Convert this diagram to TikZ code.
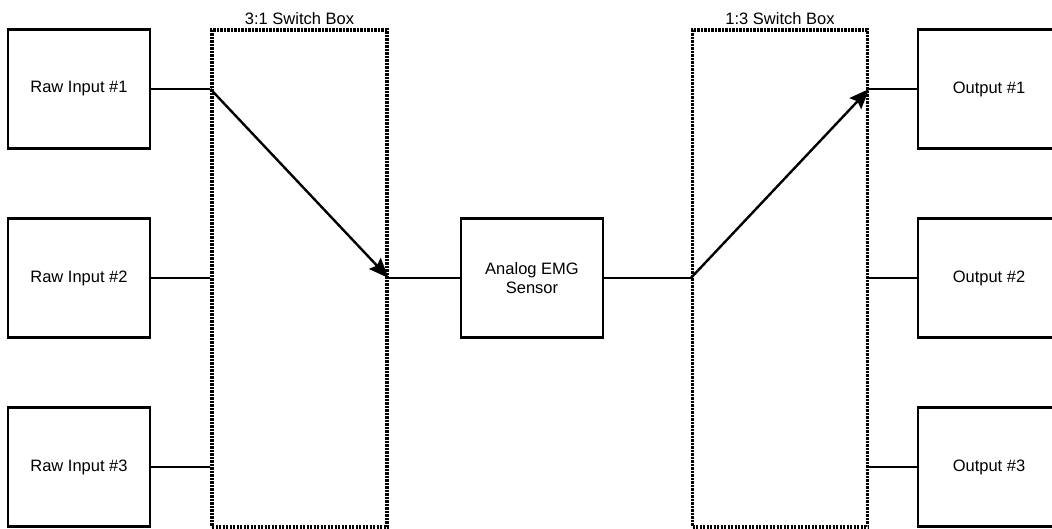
\documentclass[tikz,border=0pt]{standalone}
\usepackage{fontspec}
\setmainfont{Liberation Sans}
\usepackage{tikz}
\usetikzlibrary{arrows.meta,positioning}

\begin{document}
\begin{tikzpicture}[
  x=1pt, y=-1pt,
  every node/.style={font=\fontsize{16.5}{19}\selectfont},
  block/.style    ={rectangle, draw, line width=2.2pt, minimum width=142pt,
                    minimum height=119pt, align=center, inner sep=2pt},
  switchbox/.style={rectangle, draw, line width=3.2pt, dash pattern=on 2.2pt off 1.3pt,
                    minimum width=175pt, minimum height=497pt},
  wire/.style     ={line width=2.2pt},
  sel/.style      ={-{Stealth[length=20pt,width=16pt,inset=3pt]}, line width=2.4pt}
]
\useasboundingbox (0,0) rectangle (1052,529);

% inputs, sensor and outputs
\node[block] (in1) at (79,89)  {Raw Input \#1};
\node[block] (in2) at (79,278) {Raw Input \#2};
\node[block] (in3) at (79,467) {Raw Input \#3};
\node[block] (emg) at (532,278) {Analog EMG\\Sensor};
\node[block] (out1) at (989,89)  {Output \#1};
\node[block] (out2) at (989,278) {Output \#2};
\node[block] (out3) at (989,467) {Output \#3};

% switch boxes
\node[switchbox] (sw1) at (299.5,278.5) {};
\node[switchbox] (sw2) at (780,278.5) {};
\node[above=0pt of sw1] (sw1lbl) {3:1 Switch Box};
\node[above=0pt of sw2] (sw2lbl) {1:3 Switch Box};

% ports on the switch boxes
\coordinate (a1) at (sw1.west |- in1);
\coordinate (a2) at (sw1.west |- in2);
\coordinate (a3) at (sw1.west |- in3);
\coordinate (a0) at (sw1.east |- emg);
\coordinate (b0) at (sw2.west |- emg);
\coordinate (b1) at (sw2.east |- out1);
\coordinate (b2) at (sw2.east |- out2);
\coordinate (b3) at (sw2.east |- out3);

\draw[wire] (in1.east) -- (a1);
\draw[wire] (in2.east) -- (a2);
\draw[wire] (in3.east) -- (a3);
\draw[sel]  (a1) -- (a0);
\draw[wire] (a0) -- (emg.west);
\draw[wire] (emg.east) -- (b0);
\draw[sel]  (b0) -- (b1);
\draw[wire] (b1) -- (out1.west);
\draw[wire] (b2) -- (out2.west);
\draw[wire] (b3) -- (out3.west);
\end{tikzpicture}
\end{document}
